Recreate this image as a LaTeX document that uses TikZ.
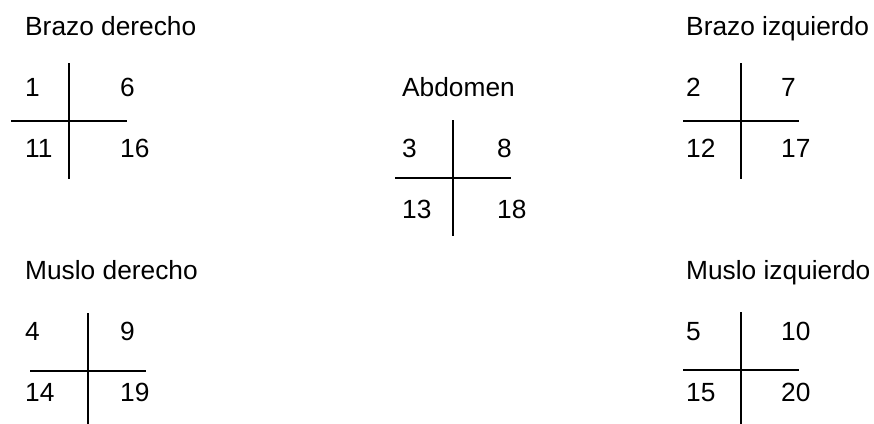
\documentclass[tikz,border=0pt]{standalone}
\usepackage{fontspec}
\setmainfont{Liberation Sans}
\usetikzlibrary{positioning}
\tikzset{
  titulo/.style={anchor=base west, inner sep=0pt},
  numero/.style={anchor=base west, inner sep=0pt},
  cruz/.style={line width=2pt},
}
\begin{document}
\begin{tikzpicture}[x=1pt, y=-1pt, every node/.style={font=\fontsize{26.3}{30}\selectfont}]
  \useasboundingbox (0,0) rectangle (874,423);
  % one cross per body zone: title, lines, four numbers
  \foreach \nm/\x/\y/\cx/\cy/\ttl/\a/\b/\c/\d in {
    bd/25/35/69/121/Brazo derecho/1/6/11/16,
    ab/402/96/453/178/Abdomen/3/8/13/18,
    bi/686/35/741/121/Brazo izquierdo/2/7/12/17,
    md/25/279/88/371/Muslo derecho/4/9/14/19,
    mi/686/279/741/370/Muslo izquierdo/5/10/15/20}
  {
    \node[titulo] (t-\nm) at (\x,\y) {\ttl};
    \coordinate (c-\nm) at (\cx,\cy);
    \draw[cruz] (\cx-58,\cy) -- (\cx+58,\cy);
    \draw[cruz] (\cx,\cy-58) -- (\cx,\cy+58);
    \node[numero] (n\a) at (\x,\y+61) {\a};
    \node[numero] (n\b) at (\x+95,\y+61) {\b};
    \node[numero] (n\c) at (\x,\y+122) {\c};
    \node[numero] (n\d) at (\x+95,\y+122) {\d};
  }
\end{tikzpicture}
\end{document}
